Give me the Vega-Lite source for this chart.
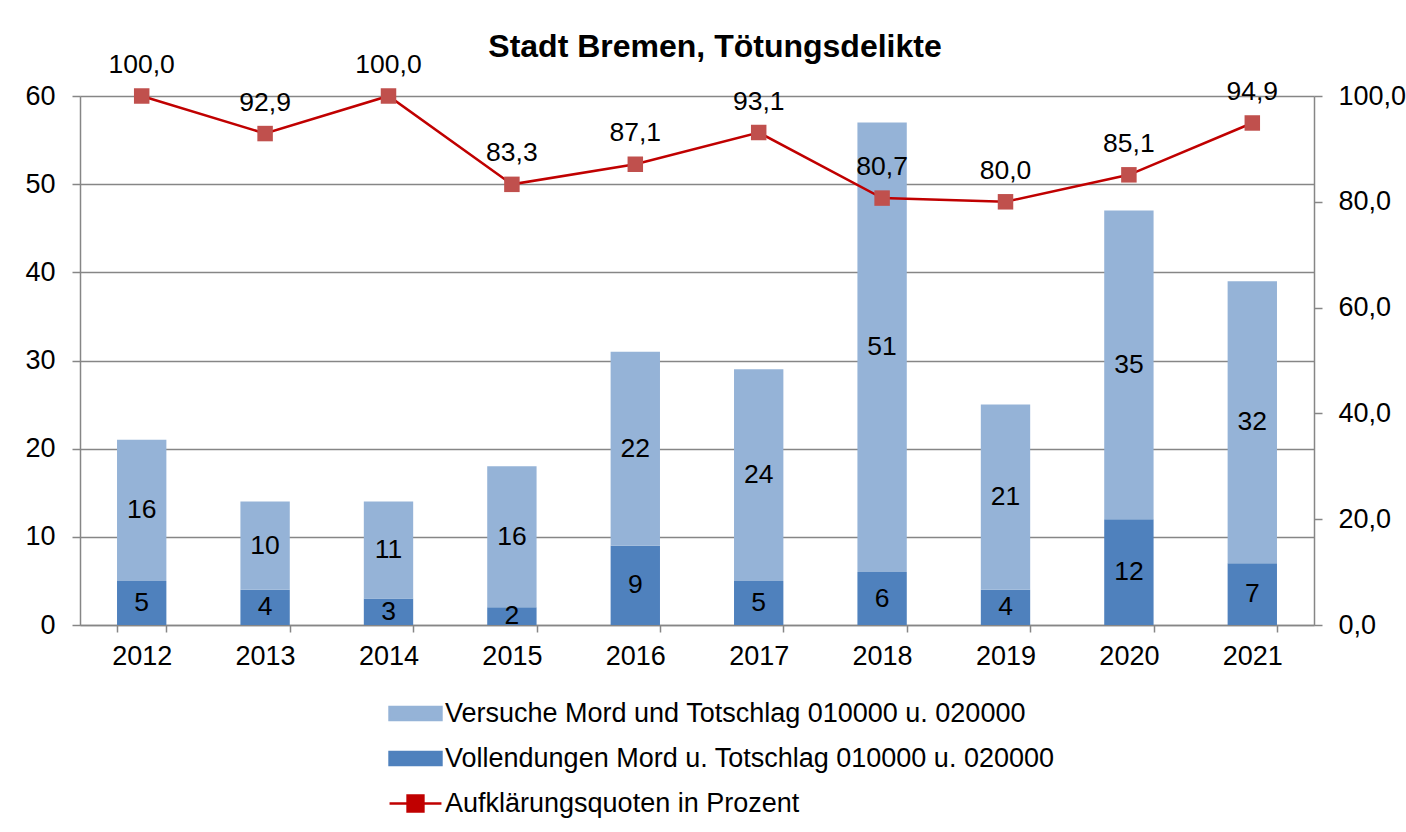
{
  "$schema": "https://vega.github.io/schema/vega-lite/v6.json",
  "width": 1234,
  "height": 529,
  "autosize": {"type": "none"},
  "padding": {"left": 80, "top": 96, "right": 92, "bottom": 207},
  "background": "white",
  "config": {
    "font": "Liberation Sans",
    "locale": {"number": {"decimal": ",", "thousands": ".", "grouping": [3], "currency": ["", " €"]}},
    "view": {"stroke": null},
    "axis": {
      "labelFont": "Liberation Sans",
      "labelFontSize": 27,
      "labelColor": "#000000",
      "domainColor": "#868686",
      "tickColor": "#868686",
      "gridColor": "#868686",
      "domainWidth": 1.5,
      "tickWidth": 1.5
    }
  },
  "title": {
    "text": "Stadt Bremen, Tötungsdelikte",
    "font": "Liberation Sans",
    "fontSize": 32,
    "fontWeight": "bold",
    "color": "#000000",
    "anchor": "middle",
    "frame": "group",
    "dx": 18,
    "offset": -12
  },
  "datasets": {
    "bars": [
      {"year": "2012", "series": "Vollendungen Mord u. Totschlag 010000 u. 020000", "value": 5},
      {"year": "2012", "series": "Versuche Mord und Totschlag 010000 u. 020000", "value": 16},
      {"year": "2013", "series": "Vollendungen Mord u. Totschlag 010000 u. 020000", "value": 4},
      {"year": "2013", "series": "Versuche Mord und Totschlag 010000 u. 020000", "value": 10},
      {"year": "2014", "series": "Vollendungen Mord u. Totschlag 010000 u. 020000", "value": 3},
      {"year": "2014", "series": "Versuche Mord und Totschlag 010000 u. 020000", "value": 11},
      {"year": "2015", "series": "Vollendungen Mord u. Totschlag 010000 u. 020000", "value": 2},
      {"year": "2015", "series": "Versuche Mord und Totschlag 010000 u. 020000", "value": 16},
      {"year": "2016", "series": "Vollendungen Mord u. Totschlag 010000 u. 020000", "value": 9},
      {"year": "2016", "series": "Versuche Mord und Totschlag 010000 u. 020000", "value": 22},
      {"year": "2017", "series": "Vollendungen Mord u. Totschlag 010000 u. 020000", "value": 5},
      {"year": "2017", "series": "Versuche Mord und Totschlag 010000 u. 020000", "value": 24},
      {"year": "2018", "series": "Vollendungen Mord u. Totschlag 010000 u. 020000", "value": 6},
      {"year": "2018", "series": "Versuche Mord und Totschlag 010000 u. 020000", "value": 51},
      {"year": "2019", "series": "Vollendungen Mord u. Totschlag 010000 u. 020000", "value": 4},
      {"year": "2019", "series": "Versuche Mord und Totschlag 010000 u. 020000", "value": 21},
      {"year": "2020", "series": "Vollendungen Mord u. Totschlag 010000 u. 020000", "value": 12},
      {"year": "2020", "series": "Versuche Mord und Totschlag 010000 u. 020000", "value": 35},
      {"year": "2021", "series": "Vollendungen Mord u. Totschlag 010000 u. 020000", "value": 7},
      {"year": "2021", "series": "Versuche Mord und Totschlag 010000 u. 020000", "value": 32}
    ],
    "quote": [
      {"year": "2012", "quote": 100.0},
      {"year": "2013", "quote": 92.9},
      {"year": "2014", "quote": 100.0},
      {"year": "2015", "quote": 83.3},
      {"year": "2016", "quote": 87.1},
      {"year": "2017", "quote": 93.1},
      {"year": "2018", "quote": 80.7},
      {"year": "2019", "quote": 80.0},
      {"year": "2020", "quote": 85.1},
      {"year": "2021", "quote": 94.9}
    ]
  },
  "encoding": {
    "x": {
      "field": "year",
      "type": "ordinal",
      "scale": {"paddingInner": 0.6, "paddingOuter": 0.3},
      "axis": {
        "title": null,
        "labelAngle": 0,
        "tickBand": "extent",
        "tickSize": 7,
        "labelPadding": 11
      }
    }
  },
  "layer": [
    {
      "data": {"name": "bars"},
      "layer": [
        {
          "mark": {"type": "bar"},
          "encoding": {
            "y": {
              "field": "value",
              "type": "quantitative",
              "stack": "zero",
              "scale": {"domain": [0, 60]},
              "axis": {
                "title": null,
                "values": [0, 10, 20, 30, 40, 50, 60],
                "grid": true,
                "gridWidth": 1.5,
                "tickSize": 8,
                "labelPadding": 17
              }
            },
            "color": {
              "field": "series",
              "type": "nominal",
              "scale": {
                "domain": [
                  "Versuche Mord und Totschlag 010000 u. 020000",
                  "Vollendungen Mord u. Totschlag 010000 u. 020000",
                  "Aufklärungsquoten in Prozent"
                ],
                "range": ["#95b3d7", "#4f81bd", "#c00000"]
              },
              "legend": {
                "title": null,
                "orient": "none",
                "legendX": 312,
                "legendY": 594,
                "direction": "vertical",
                "padding": 0,
                "rowPadding": 8,
                "symbolSize": 1936,
                "labelFont": "Liberation Sans",
                "labelFontSize": 27,
                "labelColor": "#000000",
                "labelOffset": 6,
                "labelLimit": 1000,
                "encode": {
                  "symbols": {
                    "update": {
                      "shape": {"signal": "datum.value === 'Aufklärungsquoten in Prozent' ? 'M-1.18,0H-0.36M0.36,0H1.18M-0.36,-0.36H0.36V0.36H-0.36Z' : 'M-1.18,-0.3H1.18V0.3H-1.18Z'"},
                      "fill": {"signal": "datum.value === 'Aufklärungsquoten in Prozent' ? '#c0504d' : (datum.value === 'Versuche Mord und Totschlag 010000 u. 020000' ? '#95b3d7' : '#4f81bd')"},
                      "stroke": {"signal": "datum.value === 'Aufklärungsquoten in Prozent' ? '#c00000' : 'transparent'"},
                      "strokeWidth": {"value": 2.5},
                      "fillOpacity": {"value": 1},
                      "opacity": {"value": 1}
                    }
                  }
                }
              }
            },
            "order": {"field": "series", "sort": "descending"}
          }
        },
        {
          "transform": [
            {"stack": "value", "groupby": ["year"], "sort": [{"field": "series", "order": "descending"}], "as": ["v0", "v1"]},
            {"calculate": "(datum.v0 + datum.v1) / 2", "as": "mid"}
          ],
          "mark": {"type": "text", "fontSize": 26.5, "color": "#000000", "baseline": "middle", "font": "Liberation Sans"},
          "encoding": {
            "y": {"field": "mid", "type": "quantitative"},
            "text": {"field": "value", "type": "quantitative"}
          }
        }
      ]
    },
    {
      "data": {"name": "quote"},
      "layer": [
        {
          "mark": {"type": "line", "strokeWidth": 2.5},
          "encoding": {
            "y": {
              "field": "quote",
              "type": "quantitative",
              "scale": {"domain": [0, 100]},
              "axis": {
                "orient": "right",
                "title": null,
                "values": [0, 20, 40, 60, 80, 100],
                "format": ".1f",
                "grid": false,
                "tickSize": 8,
                "labelPadding": 16
              }
            },
            "color": {"datum": "Aufklärungsquoten in Prozent"}
          }
        },
        {
          "mark": {"type": "point", "shape": "square", "filled": true, "size": 240, "color": "#c0504d", "opacity": 1},
          "encoding": {
            "y": {"field": "quote", "type": "quantitative"}
          }
        },
        {
          "mark": {"type": "text", "fontSize": 26.5, "color": "#000000", "baseline": "alphabetic", "dy": -23, "font": "Liberation Sans"},
          "encoding": {
            "y": {"field": "quote", "type": "quantitative"},
            "text": {"field": "quote", "type": "quantitative", "format": ".1f"}
          }
        }
      ]
    }
  ],
  "resolve": {"scale": {"y": "independent"}}
}
